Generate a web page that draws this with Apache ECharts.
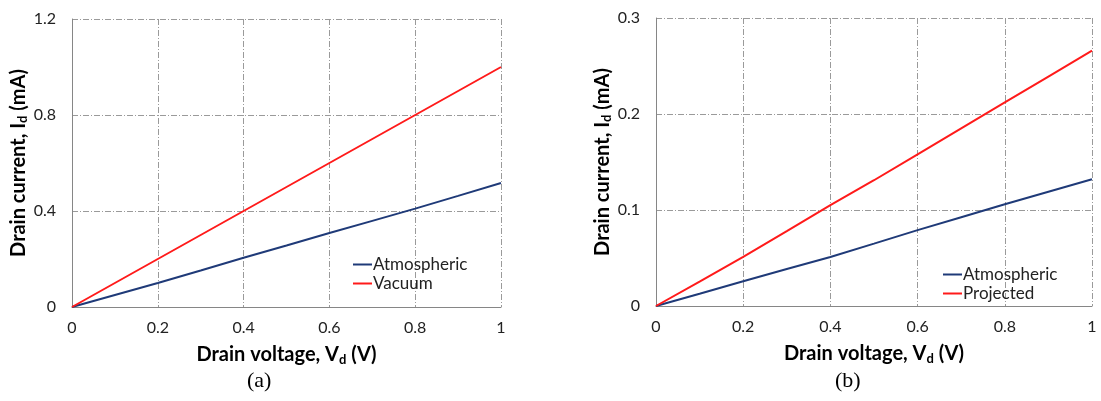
<!DOCTYPE html>
<html>
<head>
<meta charset="utf-8">
<script src="https://cdn.jsdelivr.net/npm/echarts@6/dist/echarts.min.js"></script>
<style>
  html, body { margin: 0; padding: 0; background: #fff; }
  #chart { width: 1101px; height: 401px; }
</style>
</head>
<body>
<div id="chart"></div>
<script>
// drain voltage samples (V)
const voltage = [0, 0.1, 0.2, 0.3, 0.4, 0.5, 0.6, 0.7, 0.8, 0.9, 1.0]

// (a) measured currents (mA)
const atmosphericA = [0, 0.05, 0.1, 0.152, 0.205, 0.256, 0.308, 0.359, 0.41, 0.463, 0.517]
const vacuumA = [0, 0.1, 0.2, 0.3, 0.4, 0.5, 0.6, 0.7, 0.8, 0.9, 1.0]

// (b) currents (mA)
const atmosphericB = [0, 0.0128, 0.0258, 0.0385, 0.0511, 0.065, 0.079, 0.0925, 0.106, 0.119, 0.132]
const projectedB = [0, 0.0255, 0.0511, 0.078, 0.105, 0.131, 0.158, 0.185, 0.212, 0.239, 0.266]

const yTicksA = [0, 0.4, 0.8, 1.2]
const yTicksB = [0, 0.1, 0.2, 0.3]

const NAVY = '#1f3a78'
const RED = '#ff1a1a'
const FONT = 'Lato'

const chart = echarts.init(document.getElementById('chart'))

const gridLine = { lineStyle: { color: '#9a9a9a', width: 1, type: [6, 2, 1, 2] } }

const titleRich = {
  b: { fontFamily: FONT, fontWeight: 'bold', fontSize: 20, color: '#000' },
  s: { fontFamily: FONT, fontWeight: 'bold', fontSize: 13, color: '#000', padding: [10, 0, 0, 0] }
}

function pairs(xs, ys) {
  return xs.map((x, i) => [x, ys[i]])
}

function xAxis(gridIndex) {
  return {
    type: 'value',
    gridIndex,
    min: 0,
    max: 1,
    interval: 0.2,
    name: '{b|Drain voltage, V}{s|d}{b| (V)}',
    nameLocation: 'middle',
    nameGap: 36,
    nameTextStyle: { rich: titleRich },
    axisLine: { show: true, lineStyle: { color: '#868686', width: 1 } },
    axisTick: { show: false },
    axisLabel: {
      fontFamily: FONT, fontSize: 16, color: '#222', margin: 13,
      formatter: v => String(+v.toFixed(1))
    },
    splitLine: { show: true, ...gridLine }
  }
}

function yAxis(gridIndex, ticks) {
  return {
    type: 'value',
    gridIndex,
    min: ticks[0],
    max: ticks[ticks.length - 1],
    interval: ticks[1] - ticks[0],
    name: '{b|Drain current, I}{s|d}{b| (mA)}',
    nameLocation: 'middle',
    nameRotate: 90,
    nameGap: 41,
    nameTextStyle: { rich: titleRich },
    axisLine: { show: true, lineStyle: { color: '#868686', width: 1 } },
    axisTick: { show: false },
    axisLabel: {
      fontFamily: FONT, fontSize: 16, color: '#222', margin: 16,
      formatter: v => String(+v.toFixed(1))
    },
    splitLine: { show: true, ...gridLine }
  }
}

function line(name, data, color, idx) {
  return {
    name,
    type: 'line',
    xAxisIndex: idx,
    yAxisIndex: idx,
    data,
    color,
    symbol: 'none',
    lineStyle: { color, width: 2 },
    z: 3
  }
}

const legendBase = {
  orient: 'vertical',
  icon: 'rect',
  padding: 0,
  itemWidth: 19,
  itemHeight: 2,
  itemGap: 2,
  textStyle: { fontFamily: FONT, fontSize: 17, color: '#222', padding: [0, 0, 0, -4] }
}

chart.setOption({
  animation: false,
  grid: [
    { left: 72, right: 600, top: 19, bottom: 94 },
    { left: 656, right: 9, top: 18, bottom: 95 }
  ],
  xAxis: [xAxis(0), xAxis(1)],
  yAxis: [yAxis(0, yTicksA), yAxis(1, yTicksB)],
  legend: [
    { ...legendBase, data: ['Atmospheric', 'Vacuum'], left: 353, top: 256 },
    { ...legendBase, data: ['Atmospheric ', 'Projected'], left: 943, top: 266 }
  ],
  series: [
    line('Atmospheric', pairs(voltage, atmosphericA), NAVY, 0),
    line('Vacuum', pairs(voltage, vacuumA), RED, 0),
    line('Atmospheric ', pairs(voltage, atmosphericB), NAVY, 1),
    line('Projected', pairs(voltage, projectedB), RED, 1)
  ],
  graphic: [
    { type: 'text', left: 247, top: 370, style: { text: '(a)', font: '22px "Liberation Serif"', fill: '#000' } },
    { type: 'text', left: 835, top: 370, style: { text: '(b)', font: '22px "Liberation Serif"', fill: '#000' } }
  ]
})
</script>
</body>
</html>
